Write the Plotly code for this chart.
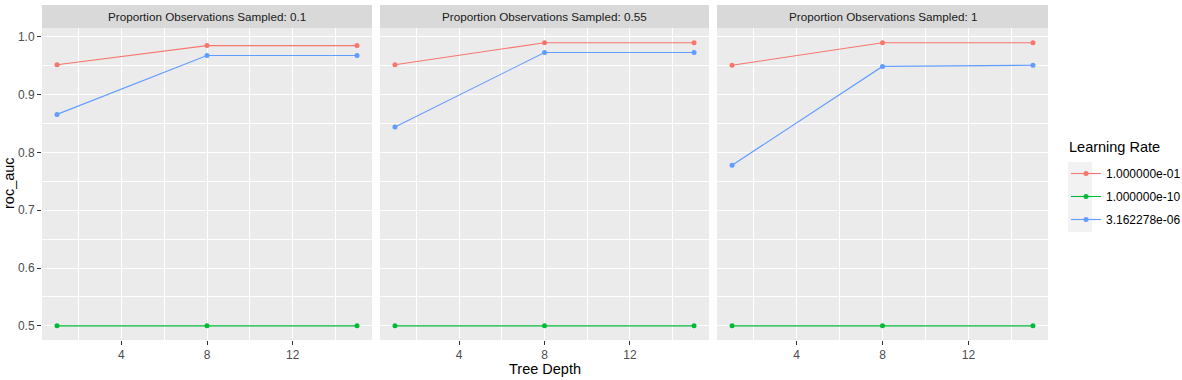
import plotly.graph_objects as go

tree_depth = [1, 8, 15]
panels = ["0.1", "0.55", "1"]
learn_rates = ["1.000000e-01", "1.000000e-10", "3.162278e-06"]
colors = ["#F8766D", "#00BA38", "#619CFF"]

# roc_auc values per panel, per learning rate
auc_p01 = {"1.000000e-01": [0.952, 0.985, 0.985],
           "1.000000e-10": [0.5, 0.5, 0.5],
           "3.162278e-06": [0.866, 0.968, 0.968]}
auc_p055 = {"1.000000e-01": [0.952, 0.990, 0.990],
            "1.000000e-10": [0.5, 0.5, 0.5],
            "3.162278e-06": [0.844, 0.973, 0.973]}
auc_p1 = {"1.000000e-01": [0.951, 0.990, 0.990],
          "1.000000e-10": [0.5, 0.5, 0.5],
          "3.162278e-06": [0.778, 0.949, 0.951]}
panel_data = [auc_p01, auc_p055, auc_p1]

W, H = 1182, 380
ML, MR, MT, MB = 42, 1182 - 1048, 28, 40
PW = W - ML - MR
PH = H - MT - MB

def px2x(p):
    return (p - ML) / PW

def px2y(p):
    return (H - MB - p) / PH

panel_px = [(42, 372), (380, 709), (717, 1048)]

fig = go.Figure()
layout = dict(
    width=W, height=H,
    margin=dict(l=ML, r=MR, t=MT, b=MB),
    paper_bgcolor="white",
    plot_bgcolor="#EBEBEB",
    font=dict(family="Liberation Sans, Arial, sans-serif", color="#4D4D4D", size=12),
    showlegend=True,
)

shapes = []
annotations = []
for i, (pname, pdata) in enumerate(zip(panels, panel_data)):
    xa = "x" if i == 0 else f"x{i+1}"
    ya = "y" if i == 0 else f"y{i+1}"
    for lr, col in zip(learn_rates, colors):
        fig.add_trace(go.Scatter(
            x=tree_depth, y=pdata[lr], mode="lines+markers",
            line=dict(color=col, width=1.1),
            marker=dict(color=col, size=5),
            name=lr, legendgroup=lr, showlegend=(i == 0),
            xaxis=xa, yaxis=ya,
        ))
    x0, x1 = panel_px[i]
    xk = "xaxis" if i == 0 else f"xaxis{i+1}"
    yk = "yaxis" if i == 0 else f"yaxis{i+1}"
    layout[xk] = dict(
        domain=[px2x(x0), px2x(x1)], range=[0.3, 15.7],
        tickmode="array", tickvals=[4, 8, 12], ticktext=["4", "8", "12"],
        ticks="outside", ticklen=4, tickcolor="#333333", tickwidth=1,
        showgrid=True, gridcolor="white", gridwidth=1.1,
        minor=dict(tickmode="array", tickvals=[2, 6, 10, 14], showgrid=True,
                   gridcolor="white", gridwidth=0.5, ticks=""),
        zeroline=False, showline=False,
        tickfont=dict(size=12, color="#4D4D4D"),
        anchor=ya,
    )
    layout[yk] = dict(
        domain=[0, 1], range=[0.4755, 1.0155],
        tickmode="array", tickvals=[0.5, 0.6, 0.7, 0.8, 0.9, 1.0],
        ticktext=["0.5", "0.6", "0.7", "0.8", "0.9", "1.0"],
        ticks="outside" if i == 0 else "", ticklen=4, tickcolor="#333333",
        showticklabels=(i == 0),
        showgrid=True, gridcolor="white", gridwidth=1.1,
        minor=dict(tickmode="array", tickvals=[0.55, 0.65, 0.75, 0.85, 0.95],
                   showgrid=True, gridcolor="white", gridwidth=0.5, ticks=""),
        zeroline=False, showline=False,
        tickfont=dict(size=12, color="#4D4D4D"),
        anchor=xa,
    )
    shapes.append(dict(type="rect", xref="paper", yref="paper",
                       x0=px2x(x0), x1=px2x(x1), y0=px2y(28), y1=px2y(5),
                       fillcolor="#D9D9D9", line=dict(width=0), layer="below"))
    annotations.append(dict(text=f"Proportion Observations Sampled: {pname}",
                            xref="paper", yref="paper",
                            x=(px2x(x0) + px2x(x1)) / 2, y=(px2y(28) + px2y(5)) / 2,
                            showarrow=False, xanchor="center", yanchor="middle",
                            font=dict(size=11.7, color="#1A1A1A")))

# axis titles
annotations.append(dict(text="Tree Depth", xref="paper", yref="paper",
                        x=px2x(545), y=px2y(369), showarrow=False,
                        xanchor="center", yanchor="middle",
                        font=dict(size=14.5, color="black")))
annotations.append(dict(text="roc_auc", xref="paper", yref="paper",
                        x=px2x(9), y=px2y(183), showarrow=False, textangle=-90,
                        xanchor="center", yanchor="middle",
                        font=dict(size=14.5, color="black")))
# legend title
annotations.append(dict(text="Learning Rate", xref="paper", yref="paper",
                        x=px2x(1067), y=px2y(147), showarrow=False,
                        xanchor="left", yanchor="middle",
                        font=dict(size=14.5, color="black")))

# legend key background
shapes.append(dict(type="rect", xref="paper", yref="paper",
                   x0=px2x(1068), x1=px2x(1092), y0=px2y(232), y1=px2y(162),
                   fillcolor="#F2F2F2", line=dict(width=0), layer="below"))

layout["shapes"] = shapes
layout["annotations"] = annotations
layout["legend"] = dict(
    xref="container", yref="container",
    x=1066 / W, y=1 - 159 / H, xanchor="left", yanchor="top",
    font=dict(size=12, color="black"),
    tracegroupgap=4, itemwidth=30, bgcolor="rgba(0,0,0,0)",
)

fig.update_layout(**layout)
fig.write_html("out.html", post_script="document.body.style.margin='0';",
               config={"displayModeBar": False})
